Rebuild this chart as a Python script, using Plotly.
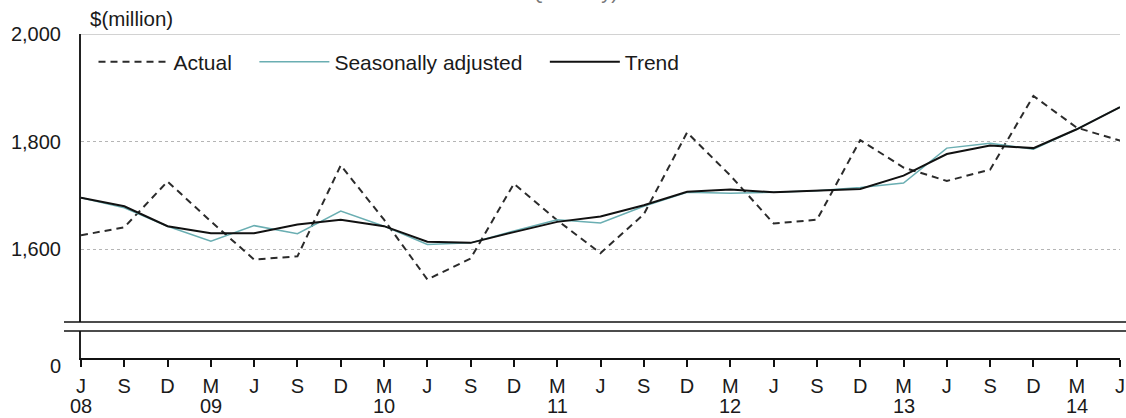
import plotly.graph_objects as go

# quarterly points, J 08 .. J 14
months = ["J", "S", "D", "M"] * 6 + ["J"]
years = ["08", "", "", "09", "", "", "", "10", "", "", "", "11", "", "", "", "12",
         "", "", "", "13", "", "", "", "14", ""]

actual = [1626, 1641, 1726, 1652, 1581, 1587, 1756, 1655, 1544, 1583, 1722, 1654, 1593,
          1665, 1817, 1737, 1648, 1655, 1803, 1752, 1727, 1748, 1885, 1826, 1802]
seasonal = [1696, 1677, 1643, 1615, 1644, 1629, 1671, 1643, 1609, 1612, 1634, 1655, 1649,
            1680, 1706, 1704, 1706, 1709, 1715, 1723, 1788, 1797, 1786, 1823, 1864]
trend = [1696, 1680, 1643, 1630, 1630, 1646, 1655, 1643, 1614, 1612, 1632, 1651, 1661,
         1682, 1707, 1711, 1706, 1709, 1712, 1737, 1777, 1793, 1788, 1823, 1864]

x = list(range(len(months)))

FONT = "Liberation Sans, Arial, sans-serif"
TXT = "#1a1a1a"
NB = "\u00a0"

fig = go.Figure()
fig.add_trace(go.Scatter(x=x, y=actual, name="Actual" + NB * 3, mode="lines",
                         line=dict(color="#2b2b2b", width=2, dash="7px,5px")))
fig.add_trace(go.Scatter(x=x, y=seasonal, name="Seasonally adjusted" + NB * 3, mode="lines",
                         line=dict(color="#6aaeb2", width=1.5)))
fig.add_trace(go.Scatter(x=x, y=trend, name="Trend", mode="lines",
                         line=dict(color="#111111", width=2)))
# the trend again on the lower (0-based) panel of the broken axis; it lies above
# that panel's range, so only the panel and its axes show
fig.add_trace(go.Scatter(x=x, y=trend, yaxis="y2", mode="lines", showlegend=False,
                         hoverinfo="skip", line=dict(color="#111111", width=2)))

# pixel layout: plot area from y=34 to y=358, break at 322/331
H = 324
W = 1039
top_lo = (358 - 322) / H
bot_hi = (358 - 331) / H

fig.update_layout(
    width=1126, height=418,
    margin=dict(l=81, r=6, t=34, b=60, autoexpand=False),
    paper_bgcolor="white", plot_bgcolor="white",
    font=dict(family=FONT, size=20, color=TXT),
    showlegend=True,
    legend=dict(orientation="h", x=12.5 / W, xanchor="left", y=(358 - 62) / H, yanchor="middle",
                bgcolor="rgba(0,0,0,0)", itemwidth=70, font=dict(size=21, color=TXT)),
    xaxis=dict(range=[0, 24], anchor="y2", tickmode="array", tickvals=x, ticktext=months,
               showline=True, linecolor="#111", linewidth=2, ticks="outside", ticklen=7,
               tickwidth=1.5, tickcolor="#111", showgrid=False, zeroline=False,
               automargin=False, tickfont=dict(size=20), ticklabelstandoff=2),
    yaxis=dict(domain=[top_lo, 1], range=[1465, 2000], anchor="x", tickvals=[1600, 1800, 2000],
               ticktext=["1,600", "1,800", "2,000"], showline=True, linecolor="#222",
               linewidth=2, ticks="", ticklabelstandoff=14, showgrid=True,
               gridcolor="#b5b5b5", griddash="dot", gridwidth=1, zeroline=False,
               automargin=False),
    yaxis2=dict(domain=[0, bot_hi], range=[0, 100], anchor="x", tickvals=[0], ticktext=["0"],
                showline=True, linecolor="#222", linewidth=2, ticks="",
                ticklabelstandoff=14, ticklabelshift=8, showgrid=False, zeroline=False,
                automargin=False),
)

# year labels under the quarter letters
for xi, yr in zip(x, years):
    if yr:
        fig.add_annotation(text=yr, xref="x", yref="paper", x=xi, y=-(406 - 358) / H,
                           xanchor="center", yanchor="middle", showarrow=False,
                           font=dict(size=20, color=TXT))

# solid top gridline at 2,000
fig.add_shape(type="line", xref="paper", yref="y", x0=0, x1=1, y0=2000, y1=2000,
              line=dict(color="#d2d2d2", width=2))
# axis break marks
for yy in (top_lo, bot_hi):
    fig.add_shape(type="line", xref="paper", yref="paper", x0=-17 / W, x1=1.01,
                  y0=yy, y1=yy, line=dict(color="#111", width=1.5))

fig.add_annotation(text="$(million)", xref="paper", yref="paper", x=7 / W, y=1 + (34 - 18) / H,
                   xanchor="left", yanchor="middle", showarrow=False, font=dict(size=20.5, color=TXT))
fig.add_annotation(text="Quarterly)", xref="paper", yref="paper", x=(573 - 81) / W,
                   y=1 + (34 - 5) / H, xanchor="center", yanchor="bottom", showarrow=False,
                   font=dict(size=20, color="#777"))

# page has a default 8px body margin; drop it so the figure sits at the window origin
fig.write_html("out.html", config={"displayModeBar": False},
               post_script="document.body.style.margin='0';")
